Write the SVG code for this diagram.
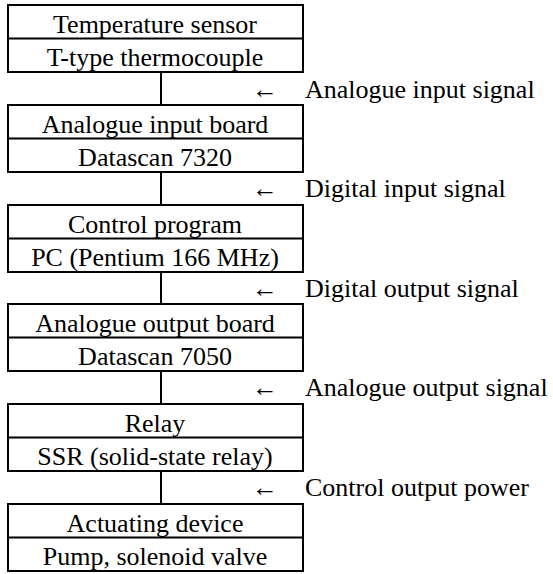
<svg xmlns="http://www.w3.org/2000/svg" width="553" height="574" viewBox="0 0 553 574" font-family="Liberation Serif, Times New Roman, serif" font-size="26">
<style>
.box{fill:#fff;stroke:#000;stroke-width:2}
.c{text-anchor:middle}
.ln{stroke:#000;stroke-width:2;fill:none}
</style>
<rect width="553" height="574" fill="#fff"/>
<g id="connectors">
<line class="ln" x1="161" y1="72" x2="161" y2="106"/>
<line class="ln" x1="161" y1="172" x2="161" y2="205"/>
<line class="ln" x1="161" y1="272" x2="161" y2="305"/>
<line class="ln" x1="161" y1="371" x2="161" y2="404"/>
<line class="ln" x1="161" y1="471" x2="161" y2="504"/>
<text x="252" y="98">←</text><text x="305" y="98">Analogue input signal</text>
<text x="252" y="197">←</text><text x="305" y="197">Digital input signal</text>
<text x="252" y="297">←</text><text x="305" y="297">Digital output signal</text>
<text x="252" y="396">←</text><text x="305" y="396">Analogue output signal</text>
<text x="252" y="496">←</text><text x="305" y="496">Control output power</text>
</g>
<g id="n1"><rect class="box" x="8" y="5" width="295" height="67"/><line class="ln" x1="8" y1="38.5" x2="303" y2="38.5"/><text class="c" x="155" y="32.5">Temperature sensor</text><text class="c" x="155" y="65.5">T-type thermocouple</text></g>
<g id="n2"><rect class="box" x="8" y="105" width="295" height="67"/><line class="ln" x1="8" y1="138.5" x2="303" y2="138.5"/><text class="c" x="155" y="132.5">Analogue input board</text><text class="c" x="155" y="165.5">Datascan 7320</text></g>
<g id="n3"><rect class="box" x="8" y="205" width="295" height="67"/><line class="ln" x1="8" y1="238.5" x2="303" y2="238.5"/><text class="c" x="155" y="232.5">Control program</text><text class="c" x="155" y="265.5">PC (Pentium 166 MHz)</text></g>
<g id="n4"><rect class="box" x="8" y="304" width="295" height="67"/><line class="ln" x1="8" y1="337.5" x2="303" y2="337.5"/><text class="c" x="155" y="331.5">Analogue output board</text><text class="c" x="155" y="364.5">Datascan 7050</text></g>
<g id="n5"><rect class="box" x="8" y="404" width="295" height="67"/><line class="ln" x1="8" y1="437.5" x2="303" y2="437.5"/><text class="c" x="155" y="431.5">Relay</text><text class="c" x="155" y="464.5">SSR (solid-state relay)</text></g>
<g id="n6"><rect class="box" x="8" y="504" width="295" height="67"/><line class="ln" x1="8" y1="537.5" x2="303" y2="537.5"/><text class="c" x="155" y="531.5">Actuating device</text><text class="c" x="155" y="564.5">Pump, solenoid valve</text></g>
</svg>
